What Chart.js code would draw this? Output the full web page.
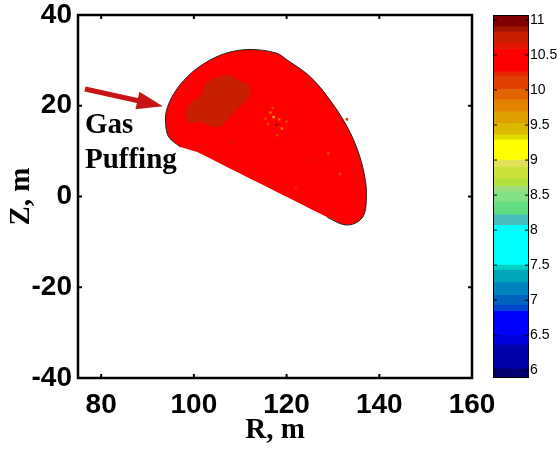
<!DOCTYPE html>
<html>
<head>
<meta charset="utf-8">
<script src="https://cdn.jsdelivr.net/npm/chart.js@4.4.0/dist/chart.umd.min.js"></script>
<style>
    html, body { margin: 0; padding: 0; background: #fff; }
    #wrap { position: relative; width: 557px; height: 450px; }
    .box { position: absolute; top: 0; height: 450px; }
</style>
</head>
<body>
<div id="wrap">
    <div class="box" style="left:0;width:557px"><canvas id="mainChart"></canvas></div>
    <div class="box" style="left:480px;width:77px"><canvas id="barChart"></canvas></div>
</div>
<script>
// Axis ticks
const rTicks = [80, 100, 120, 140, 160];
const zTicks = [-40, -20, 0, 20, 40];
const cbTicks = [6, 6.5, 7, 7.5, 8, 8.5, 9, 9.5, 10, 10.5, 11];

// Colour bar: level edges (bottom -> top) and band colours
const cbEdges = [5.89, 6.02, 6.36, 6.5, 6.84, 6.93, 7.07, 7.25, 7.43, 7.5, 8.07, 8.22, 8.4, 8.55, 8.62,
    8.74, 8.9, 9.0, 9.29, 9.36, 9.52, 9.69, 9.86, 10.01, 10.19, 10.26, 10.58, 10.67, 10.83, 10.9, 11.07];
const cbColors = [
    'rgb(0,0,110)', 'rgb(0,0,170)', 'rgb(0,0,220)', 'rgb(0,0,255)', 'rgb(0,70,210)',
    'rgb(0,100,190)', 'rgb(0,130,190)', 'rgb(0,165,185)', 'rgb(0,210,200)', 'rgb(0,255,255)',
    'rgb(70,190,190)', 'rgb(100,220,130)', 'rgb(130,225,130)', 'rgb(160,220,130)', 'rgb(180,225,60)',
    'rgb(205,225,60)', 'rgb(225,225,90)', 'rgb(255,255,0)', 'rgb(225,220,0)', 'rgb(220,185,0)',
    'rgb(222,160,0)', 'rgb(225,130,0)', 'rgb(225,100,0)', 'rgb(225,65,0)', 'rgb(230,40,0)',
    'rgb(255,0,0)', 'rgb(225,25,0)', 'rgb(200,32,0)', 'rgb(160,20,0)', 'rgb(128,0,0)'
];

// Plasma cross-section: curved rim (clockwise from lower left) and straight lower edge
const rimR = [97.1, 94.6, 93.9, 94.1, 95.7, 98.6, 102.2, 107.0, 112.1, 117.8, 120.1, 125.1, 129.4,
    133.1, 135.6, 137.0, 137.2, 136.6, 134.8, 132.3, 128.8];
const rimZ = [10.9, 13.1, 16.1, 19.0, 22.7, 26.4, 29.3, 31.6, 32.4, 31.6, 30.1, 26.4, 21.2,
    15.3, 9.4, 3.5, -0.9, -4.2, -5.9, -6.2, -4.6];
const edgeR = [121.6, 114.4, 100.7];
const edgeZ = [-0.9, 2.8, 9.8];
const plasmaLevel = 10.4;

// Denser patch near the puffing side
const patchR = [104.2, 107.1, 109.6, 112.1, 111.7, 109.9, 107.8, 106.0, 103.8, 101.3, 99.2, 98.1, 99.2, 101.3, 102.4];
const patchZ = [26.0, 26.8, 25.7, 24.2, 21.6, 19.8, 17.6, 15.7, 15.4, 16.5, 16.1, 18.3, 20.5, 22.0, 24.6];
const patchLevel = 10.75;

// Scattered cells with other levels
const speckR = [116.5, 117.2, 117.8, 118.4, 116.0, 119.0, 117.0, 118.0, 115.5, 120.0, 131.5, 129.0, 133.0, 122.0, 108.0, 126.0];
const speckZ = [18.5, 17.5, 15.8, 17.0, 16.0, 15.0, 19.5, 13.5, 17.2, 16.5, 5.0, 9.5, 17.0, 2.0, 12.0, 8.0];
const speckVal = [9.9, 9.6, 10.9, 10.0, 10.1, 9.8, 10.1, 10.1, 10.15, 10.15, 10.1, 10.15, 10.2, 10.2, 10.7, 10.7];

// Annotation: arrow tail/tip and text anchor
const arrowR = [76.5, 93.3];
const arrowZ = [23.7, 19.9];
const noteR = 76.5, noteZ = 13.9;
const noteLines = ['Gas', 'Puffing'];

function levelColor(v) {
    for (var i = 0; i < cbColors.length; i++) {
        if (v < cbEdges[i + 1]) return cbColors[i];
    }
    return cbColors[cbColors.length - 1];
}

function toPoints(rs, zs) {
    return rs.map(function (r, i) { return { x: r, y: zs[i] }; });
}

function inwardTicks(ctx, scale, a, len, vertical) {
    scale.ticks.forEach(function (t) {
        var p = scale.getPixelForValue(t.value);
        ctx.beginPath();
        if (vertical) {
            ctx.moveTo(a.left, p); ctx.lineTo(a.left + len, p);
            ctx.moveTo(a.right, p); ctx.lineTo(a.right - len, p);
        } else {
            ctx.moveTo(p, a.bottom); ctx.lineTo(p, a.bottom - len);
            ctx.moveTo(p, a.top); ctx.lineTo(p, a.top + len);
        }
        ctx.stroke();
    });
}

const mainFrame = {
    id: 'mainFrame',
    afterDatasetsDraw(chart) {
        const { ctx, chartArea: a, scales: { x, y } } = chart;
        ctx.save();
        ctx.strokeStyle = '#000';
        ctx.lineWidth = 2;
        inwardTicks(ctx, x, a, 4, false);
        inwardTicks(ctx, y, a, 4, true);
        ctx.lineWidth = 2.5;
        ctx.strokeRect(a.left, a.top, a.width, a.height);

        // arrow
        const tx = x.getPixelForValue(arrowR[0]), ty = y.getPixelForValue(arrowZ[0]);
        const hx = x.getPixelForValue(arrowR[1]), hy = y.getPixelForValue(arrowZ[1]);
        const ang = Math.atan2(hy - ty, hx - tx);
        const headLen = 26, headW = 9;
        const bx = hx - headLen * Math.cos(ang), by = hy - headLen * Math.sin(ang);
        ctx.strokeStyle = ctx.fillStyle = 'rgb(200,20,20)';
        ctx.lineWidth = 5;
        ctx.beginPath();
        ctx.moveTo(tx, ty); ctx.lineTo(bx + 2 * Math.cos(ang), by + 2 * Math.sin(ang));
        ctx.stroke();
        ctx.beginPath();
        ctx.moveTo(hx, hy);
        ctx.lineTo(bx - headW * Math.sin(ang), by + headW * Math.cos(ang));
        ctx.lineTo(bx + headW * Math.sin(ang), by - headW * Math.cos(ang));
        ctx.closePath();
        ctx.fill();

        // text
        ctx.fillStyle = '#000';
        ctx.font = 'bold 29px "Liberation Serif", "Times New Roman", serif';
        ctx.textBaseline = 'alphabetic';
        ctx.textAlign = 'left';
        const gx = x.getPixelForValue(noteR), gy = y.getPixelForValue(noteZ);
        noteLines.forEach(function (s, i) { ctx.fillText(s, gx, gy + i * 35); });
        ctx.restore();
    }
};

const barFrame = {
    id: 'barFrame',
    afterDatasetsDraw(chart) {
        const { ctx, chartArea: a, scales: { y } } = chart;
        ctx.save();
        ctx.strokeStyle = '#000';
        ctx.lineWidth = 1;
        inwardTicks(ctx, y, a, 4, true);
        ctx.strokeRect(a.left + 0.5, a.top + 0.5, a.width - 1, a.height - 1);
        ctx.restore();
    }
};

const xTickFont = { family: '"Liberation Sans", Arial, sans-serif', size: 28, weight: 'bold' };
const yTickFont = { family: '"Liberation Sans", Arial, sans-serif', size: 28, weight: 'bold', lineHeight: 0.6 };
const titleFont = { family: '"Liberation Serif", "Times New Roman", serif', size: 29, weight: 'bold' };

new Chart(document.getElementById('mainChart'), {
    type: 'scatter',
    data: {
        datasets: [{
            data: toPoints(rimR.concat(edgeR), rimZ.concat(edgeZ)),
            showLine: true,
            fill: 'shape',
            backgroundColor: levelColor(plasmaLevel),
            borderWidth: 0,
            borderColor: 'rgba(0,0,0,0)',
            pointRadius: 0,
            tension: 0.35,
            order: 4
        }, {
            data: toPoints(patchR.concat(patchR[0]), patchZ.concat(patchZ[0])),
            showLine: true,
            fill: 'shape',
            backgroundColor: levelColor(patchLevel),
            borderWidth: 0,
            borderColor: 'rgba(0,0,0,0)',
            pointRadius: 0,
            tension: 0.3,
            order: 3
        }, {
            data: toPoints(speckR, speckZ),
            pointStyle: 'rect',
            pointRadius: 1.8,
            borderWidth: 0,
            backgroundColor: speckVal.map(levelColor),
            order: 2
        }, {
            data: toPoints(rimR, rimZ),
            showLine: true,
            fill: false,
            borderColor: '#222',
            borderWidth: 1,
            pointRadius: 0,
            tension: 0.35,
            order: 1
        }]
    },
    options: {
        animation: false,
        responsive: true,
        maintainAspectRatio: false,
        layout: { padding: { left: 0, top: 15, right: 85, bottom: 0 } },
        plugins: { legend: { display: false }, tooltip: { enabled: false } },
        scales: {
            x: {
                type: 'linear', min: 75, max: 160,
                afterBuildTicks: function (s) { s.ticks = rTicks.map(function (v) { return { value: v }; }); },
                afterFit: function (s) { s.height = 72; },
                grid: { display: false, drawTicks: false },
                border: { display: false },
                ticks: { font: xTickFont, color: '#000', padding: 10, maxRotation: 0 },
                title: { display: true, text: 'R, m', font: titleFont, color: '#000', padding: { top: 0, bottom: 2 } }
            },
            y: {
                type: 'linear', min: -40, max: 40,
                afterBuildTicks: function (s) { s.ticks = zTicks.map(function (v) { return { value: v }; }); },
                afterFit: function (s) { s.width = 78; },
                grid: { display: false, drawTicks: false },
                border: { display: false },
                ticks: { font: yTickFont, color: '#000', padding: 6 },
                title: { display: true, text: 'Z, m', font: titleFont, color: '#000', padding: { top: 4, bottom: 0 } }
            }
        }
    },
    plugins: [mainFrame]
});

new Chart(document.getElementById('barChart'), {
    type: 'bar',
    data: {
        labels: [''],
        datasets: cbColors.map(function (c, i) {
            return {
                data: [[cbEdges[i], cbEdges[i + 1]]],
                backgroundColor: c,
                borderWidth: 0,
                barPercentage: 1,
                categoryPercentage: 1
            };
        })
    },
    options: {
        animation: false,
        responsive: true,
        maintainAspectRatio: false,
        layout: { padding: { left: 13, top: 15, right: 0, bottom: 72 } },
        plugins: { legend: { display: false }, tooltip: { enabled: false } },
        scales: {
            x: { stacked: true, display: false },
            y: {
                position: 'right',
                min: cbEdges[0], max: cbEdges[cbEdges.length - 1],
                afterBuildTicks: function (s) { s.ticks = cbTicks.map(function (v) { return { value: v }; }); },
                afterFit: function (s) { s.width = 28; },
                grid: { display: false, drawTicks: false },
                border: { display: false },
                ticks: {
                    font: { family: '"Liberation Sans", Arial, sans-serif', size: 14 },
                    color: '#000', padding: 1,
                    callback: function (v) { return String(v); }
                }
            }
        }
    },
    plugins: [barFrame]
});
</script>
</body>
</html>
